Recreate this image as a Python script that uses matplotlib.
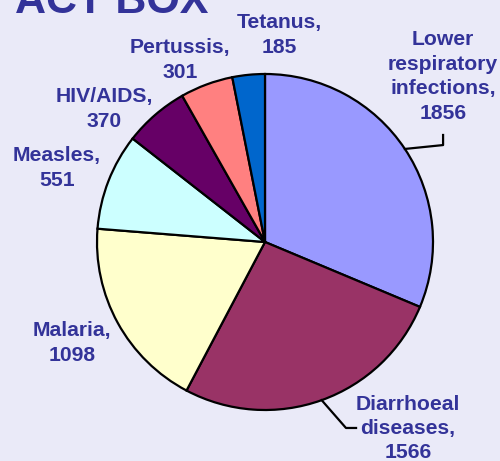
import matplotlib
matplotlib.use("Agg")
import matplotlib.pyplot as plt
import numpy as np

categories = ["Lower\nrespiratory\ninfections", "Diarrhoeal\ndiseases", "Malaria",
              "Measles", "HIV/AIDS", "Pertussis", "Tetanus"]
values = [1856, 1566, 1098, 551, 370, 301, 185]
colors = ["#9999ff", "#993366", "#ffffcc", "#ccffff", "#660066", "#ff8080", "#0066cc"]
label_pos = [(1.06, 0.985), (0.851, -1.11), (-1.149, -0.601), (-1.238, 0.44),
             (-0.958, 0.792), (-0.506, 1.083), (0.083, 1.232)]

BG = "#eaeaf8"
TXT = "#333399"
W, H = 500, 461
cx, cy, R = 265, 242, 168

fig = plt.figure(figsize=(W / 100, H / 100), dpi=100, facecolor=BG)
ax = fig.add_axes([(cx - R) / W, (H - cy - R) / H, 2 * R / W, 2 * R / H])
ax.set_facecolor(BG)
wedges, _ = ax.pie(values, colors=colors, startangle=90, counterclock=False,
                   wedgeprops=dict(edgecolor="black", linewidth=1.6))
ax.set_xlim(-1, 1)
ax.set_ylim(-1, 1)
ax.set_aspect("equal")

for cat, v, (lx, ly) in zip(categories, values, label_pos):
    ax.text(lx, ly, f"{cat},\n{v}", ha="center", va="center", color=TXT,
            fontsize=15.2, fontweight="bold", family="Liberation Sans",
            linespacing=1.36, clip_on=False)

# leader lines for the two labels at mid-angle of wedges
total = sum(values)
angles = []
start = 90.0
for v in values:
    span = v / total * 360
    angles.append(np.deg2rad(start - span / 2))
    start -= span

a0 = angles[0]
ax.plot([np.cos(a0), 1.06, 1.06], [np.sin(a0), 0.577, 0.637], color="black", lw=1.6, clip_on=False)
a1 = angles[1]
ax.plot([np.cos(a1), 0.482, 0.542], [np.sin(a1), -1.107, -1.107], color="black", lw=1.6, clip_on=False)

fig.text(15 / W, 1 - 13 / H, "ACT BOX", ha="left", va="baseline", color=TXT,
         fontsize=31, fontweight="bold", family="Liberation Sans")

fig.savefig("out.png", dpi=100, facecolor=BG)
